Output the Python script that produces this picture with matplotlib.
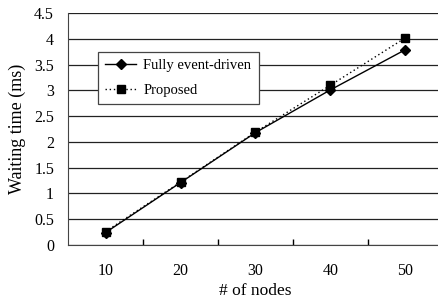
import numpy as np
import matplotlib
matplotlib.use("Agg")
import matplotlib.pyplot as plt
from matplotlib.ticker import FixedLocator

plt.rcParams['font.family'] = ['Liberation Serif', 'DejaVu Serif']

nodes = [10, 20, 30, 40, 50]
fully_event_driven = [0.24, 1.21, 2.18, 3.01, 3.79]
proposed = [0.26, 1.22, 2.19, 3.10, 4.02]

fig = plt.figure(figsize=(4.39, 3.01), dpi=100)
W, H = 439.0, 301.0
ax = fig.add_axes([68 / W, (H - 245) / H, 375 / W, 232 / H])

x = np.arange(len(nodes))
ax.plot(x, fully_event_driven, color='black', lw=1.0, marker='D', ms=5,
        label='Fully event-driven')
ax.plot(x, proposed, color='black', lw=1.0, ls=(0, (1, 2)), marker='s', ms=6,
        label='Proposed')

ax.set_xlim(-0.5, len(nodes) - 0.5)
ax.set_ylim(0, 4.5)
ax.set_yticks(np.arange(0, 4.51, 0.5))
ax.set_yticklabels(['0', '0.5', '1', '1.5', '2', '2.5', '3', '3.5', '4', '4.5'])
ax.set_xticks(x)
ax.set_xticklabels([str(n) for n in nodes])
ax.xaxis.set_minor_locator(FixedLocator(np.arange(0.5, len(nodes) - 0.5, 1)))
ax.tick_params(axis='x', which='major', length=0, pad=13, labelsize=11.5)
ax.tick_params(axis='x', which='minor', direction='in', length=4, width=1, color='black')
ax.tick_params(axis='y', length=0, pad=10, labelsize=11.5)

ax.grid(axis='y', color='#222222', lw=0.9)
ax.set_axisbelow(True)
for s in ['top', 'right']:
    ax.spines[s].set_visible(False)
ax.spines['left'].set_color('#444444')
ax.spines['bottom'].set_color('#444444')

ax.set_xlabel('# of nodes', fontsize=12.5, labelpad=3)
ax.set_ylabel('Waiting time (ms)', fontsize=13, labelpad=6)

leg = ax.legend(loc='upper left', bbox_to_anchor=(98 / W, 1 - 52 / H),
                bbox_transform=fig.transFigure, borderaxespad=0, fancybox=False,
                shadow=False, framealpha=1, edgecolor='#444444', fontsize=10.5,
                handlelength=2.1, handletextpad=0.5, borderpad=0.5,
                labelspacing=0.75)
leg.get_frame().set_linewidth(0.9)

fig.savefig('out.png', dpi=100)
